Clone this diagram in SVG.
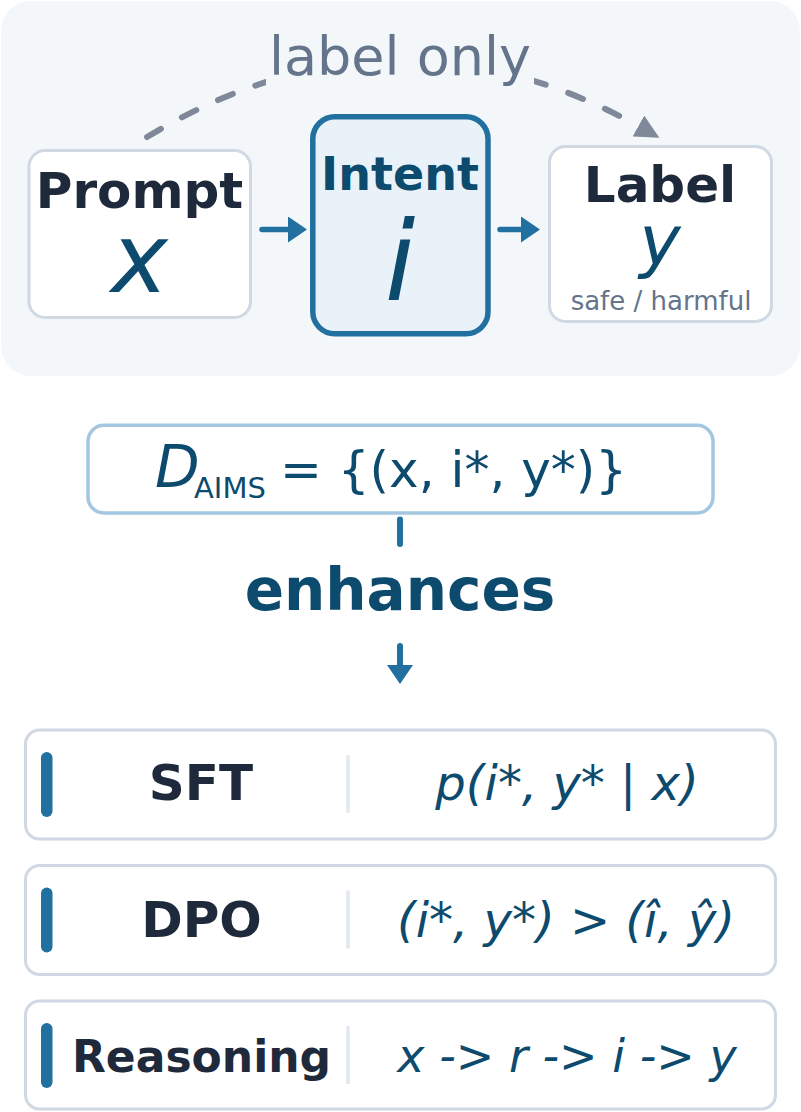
<svg xmlns="http://www.w3.org/2000/svg" width="801" height="1112" viewBox="0 0 801 1112">
<style>
  text { font-family: "DejaVu Sans", "Liberation Sans", sans-serif; }
  .bold { font-weight: bold; }
  .ital { font-style: italic; }
  .dark { fill: #1e293b; }
  .blue { fill: #0c4a6e; }
  .gray { fill: #64748b; }
  .node { fill: #ffffff; stroke: #cfd8e3; stroke-width: 3; }
  .row { fill: #ffffff; stroke: #cfd8e3; stroke-width: 3; }
  .accent { fill: #21709f; }
  .divider { stroke: #e2e8f0; stroke-width: 3.5; }
  .conn { stroke: #21709f; stroke-width: 5.5; stroke-linecap: round; fill: none; }
  .dash { stroke: #7f8999; stroke-width: 6; stroke-linecap: round; stroke-dasharray: 16 24; fill: none; }
</style>
<defs>
  <marker id="ah" markerUnits="userSpaceOnUse" markerWidth="20" markerHeight="26" viewBox="0 0 20 26" refX="0" refY="13" orient="auto">
    <path d="M0,0 L19,13 L0,26 z" fill="#21709f"/>
  </marker>
  <marker id="ahg" markerUnits="userSpaceOnUse" markerWidth="25" markerHeight="24" viewBox="0 0 25 24" refX="0" refY="12" orient="auto">
    <path d="M0,0 L24,12 L0,24 z" fill="#7f8999"/>
  </marker>
</defs>

<rect id="panel" x="1" y="1" width="799" height="375" rx="30" fill="#f3f7fa"/>

<g id="connectors">
  <path class="dash" d="M147,137 Q391.7,-10.8 638.4,126.1" marker-end="url(#ahg)"/>
  <line class="conn" x1="262" y1="229.5" x2="288" y2="229.5" marker-end="url(#ah)"/>
  <line class="conn" x1="500" y1="229.5" x2="521" y2="229.5" marker-end="url(#ah)"/>
  <line class="conn" x1="400" y1="519.5" x2="400" y2="544" style="stroke-width:6"/>
  <line class="conn" x1="400" y1="646" x2="400" y2="665" style="stroke-width:6" marker-end="url(#ah)"/>
</g>

<g id="edge-label">
  <rect x="266" y="28" width="268" height="64" fill="#f3f7fa"/>
  <text x="400" y="75" text-anchor="middle" font-size="54" class="gray">label only</text>
</g>

<g id="prompt">
  <rect class="node" x="29" y="150.5" width="221.5" height="167" rx="16"/>
  <text x="139.5" y="208" text-anchor="middle" font-size="50" class="bold dark">Prompt</text>
  <text x="139.5" y="292" text-anchor="middle" font-size="96" class="ital blue">x</text>
</g>

<g id="intent">
  <rect x="312.8" y="116.8" width="175.2" height="217" rx="22" fill="#eaf2f9" stroke="#21709f" stroke-width="5.5"/>
  <text x="400" y="190" text-anchor="middle" font-size="46" class="bold blue">Intent</text>
  <text x="400" y="300" text-anchor="middle" font-size="110" class="ital blue">i</text>
</g>

<g id="label">
  <rect class="node" x="549.5" y="146.5" width="222" height="175" rx="16"/>
  <text x="660" y="201.7" text-anchor="middle" font-size="50" class="bold dark">Label</text>
  <text x="660" y="265" text-anchor="middle" font-size="70" class="ital blue">y</text>
  <text x="661" y="310" text-anchor="middle" font-size="26" class="gray">safe / harmful</text>
</g>

<g id="dataset">
  <rect x="88" y="425.3" width="625" height="87.7" rx="16" fill="#ffffff" stroke="#a3c7e0" stroke-width="3.5"/>
  <text x="155" y="486.7" font-size="58" class="ital blue">D</text>
  <text x="194" y="497.7" font-size="29" class="blue">AIMS</text>
  <text x="280" y="486.7" font-size="50" class="blue">= {(x, i*, y*)}</text>
</g>

<g id="enhances">
  <text x="400" y="610" text-anchor="middle" font-size="58" class="bold blue">enhances</text>
</g>

<g id="sft">
  <rect class="row" x="25.5" y="730" width="750" height="109" rx="14"/>
  <rect class="accent" x="41" y="752" width="11.5" height="65" rx="5.75"/>
  <line class="divider" x1="348" y1="755" x2="348" y2="813"/>
  <text x="201" y="800.4" text-anchor="middle" font-size="50" class="bold dark">SFT</text>
  <text x="567" y="800" text-anchor="middle" font-size="48" class="ital blue">p(i*, y* | x)</text>
</g>

<g id="dpo">
  <rect class="row" x="25.5" y="865.5" width="750" height="109" rx="14"/>
  <rect class="accent" x="41" y="887.5" width="11.5" height="65" rx="5.75"/>
  <line class="divider" x1="348" y1="890.5" x2="348" y2="948.5"/>
  <text x="201.5" y="937" text-anchor="middle" font-size="50" class="bold dark">DPO</text>
  <text x="566" y="937" text-anchor="middle" font-size="48" class="ital blue">(i*, y*) &gt; (î, ŷ)</text>
</g>

<g id="reasoning">
  <rect class="row" x="25.5" y="1001" width="750" height="108" rx="14"/>
  <rect class="accent" x="41" y="1023" width="11.5" height="65" rx="5.75"/>
  <line class="divider" x1="348" y1="1026" x2="348" y2="1084"/>
  <text x="201.5" y="1072.4" text-anchor="middle" font-size="44" class="bold dark">Reasoning</text>
  <text x="567" y="1072" text-anchor="middle" font-size="46" class="ital blue">x -&gt; r -&gt; i -&gt; y</text>
</g>
</svg>
